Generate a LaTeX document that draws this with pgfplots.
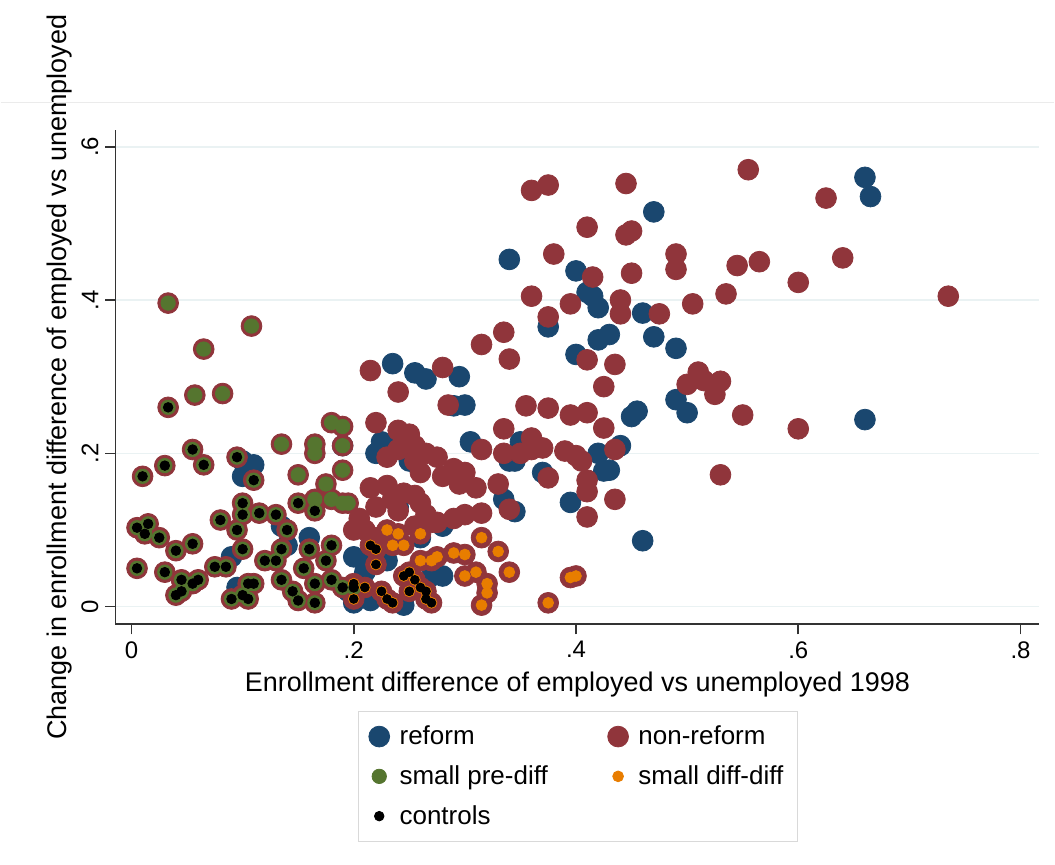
\documentclass[border=0pt]{standalone}
\usepackage{pgfplots}
\pgfplotsset{compat=1.18}
\usepackage{pgfplotstable}
\usepackage{fontspec}
\setmainfont{Liberation Sans}
\definecolor{sblue}{RGB}{26,71,111}
\definecolor{sred}{RGB}{144,53,59}
\definecolor{sgreen}{RGB}{85,117,47}
\definecolor{sorange}{RGB}{232,125,0}
\definecolor{sgrid}{RGB}{234,242,243}

\pgfplotstableread{
x y
0.66 0.56
0.665 0.535
0.47 0.515
0.34 0.453
0.40 0.438
0.41 0.41
0.415 0.405
0.42 0.39
0.46 0.383
0.375 0.365
0.43 0.355
0.42 0.348
0.47 0.352
0.49 0.337
0.40 0.329
0.235 0.317
0.255 0.305
0.265 0.297
0.295 0.30
0.51 0.298
0.49 0.27
0.50 0.253
0.455 0.255
0.45 0.248
0.66 0.244
0.30 0.263
0.29 0.262
0.305 0.215
0.35 0.215
0.225 0.215
0.22 0.20
0.24 0.22
0.19 0.21
0.44 0.21
0.42 0.20
0.37 0.175
0.43 0.178
0.425 0.177
0.34 0.19
0.345 0.19
0.335 0.14
0.345 0.124
0.395 0.136
0.46 0.086
0.10 0.19
0.11 0.185
0.10 0.17
0.135 0.105
0.16 0.09
0.09 0.065
0.20 0.065
0.21 0.06
0.21 0.045
0.195 0.02
0.215 0.008
0.20 0.005
0.245 0.002
0.27 0.04
0.26 0.09
0.28 0.04
0.095 0.025
0.14 0.08
0.24 0.13
0.28 0.105
0.25 0.19
0.23 0.06
}\reform

\pgfplotstableread{
x y
0.555 0.57
0.36 0.543
0.375 0.55
0.445 0.552
0.625 0.533
0.41 0.495
0.45 0.49
0.445 0.485
0.38 0.46
0.49 0.46
0.64 0.455
0.545 0.445
0.565 0.45
0.45 0.435
0.415 0.43
0.49 0.44
0.735 0.405
0.60 0.423
0.535 0.408
0.505 0.395
0.44 0.40
0.395 0.395
0.44 0.382
0.475 0.382
0.36 0.405
0.375 0.378
0.335 0.358
0.315 0.342
0.41 0.322
0.435 0.316
0.34 0.323
0.28 0.312
0.215 0.308
0.24 0.28
0.425 0.287
0.51 0.306
0.515 0.295
0.50 0.29
0.53 0.294
0.525 0.277
0.55 0.25
0.285 0.263
0.355 0.262
0.375 0.259
0.395 0.25
0.41 0.253
0.425 0.233
0.60 0.232
0.53 0.172
0.335 0.232
0.36 0.22
0.36 0.205
0.37 0.207
0.315 0.205
0.335 0.20
0.35 0.20
0.39 0.203
0.40 0.197
0.405 0.19
0.41 0.165
0.41 0.15
0.435 0.14
0.41 0.117
0.375 0.168
0.435 0.205
0.31 0.155
0.33 0.16
0.34 0.127
0.315 0.122
0.25 0.225
0.24 0.23
0.24 0.205
0.22 0.24
0.255 0.21
0.255 0.19
0.23 0.195
0.265 0.2
0.275 0.195
0.26 0.175
0.29 0.18
0.3 0.175
0.28 0.17
0.295 0.16
0.215 0.155
0.23 0.158
0.245 0.148
0.255 0.145
0.235 0.14
0.24 0.125
0.26 0.135
0.265 0.12
0.27 0.11
0.255 0.105
0.29 0.115
0.30 0.12
0.2 0.1
0.205 0.115
0.21 0.1
0.22 0.13
0.275 0.11
0.22 0.09
}\nonreform

\pgfplotstableread{
x y
0.033 0.396
0.108 0.366
0.065 0.336
0.057 0.276
0.082 0.278
0.135 0.212
0.165 0.212
0.165 0.2
0.19 0.235
0.18 0.24
0.19 0.21
0.15 0.172
0.175 0.16
0.19 0.178
0.18 0.14
0.19 0.135
0.195 0.135
0.165 0.14
}\predifonly

\pgfplotstableread{
x y
0.033 0.26
0.03 0.184
0.01 0.17
0.055 0.205
0.065 0.185
0.095 0.195
0.11 0.165
0.1 0.135
0.1 0.12
0.08 0.113
0.13 0.12
0.14 0.1
0.15 0.135
0.165 0.125
0.18 0.08
0.175 0.06
0.18 0.035
0.19 0.025
0.2 0.025
0.16 0.075
0.155 0.05
0.165 0.03
0.165 0.005
0.15 0.008
0.145 0.02
0.135 0.035
0.12 0.06
0.13 0.06
0.135 0.075
0.1 0.075
0.105 0.03
0.11 0.03
0.09 0.01
0.105 0.01
0.1 0.015
0.06 0.035
0.055 0.03
0.045 0.035
0.04 0.015
0.045 0.02
0.03 0.045
0.005 0.05
0.005 0.103
0.012 0.095
0.015 0.108
0.025 0.09
0.04 0.073
0.055 0.082
0.085 0.052
0.075 0.052
0.095 0.1
0.115 0.122
}\ctrlgreen

\pgfplotstableread{
x y
0.22 0.075
0.215 0.08
0.22 0.055
0.225 0.02
0.23 0.01
0.245 0.04
0.25 0.045
0.255 0.035
0.26 0.025
0.265 0.02
0.27 0.005
0.265 0.01
0.2 0.03
0.2 0.01
0.21 0.025
0.235 0.005
0.25 0.02
}\ctrlorange

\pgfplotstableread{
x y
0.23 0.1
0.24 0.095
0.235 0.08
0.26 0.095
0.245 0.08
0.26 0.06
0.275 0.065
0.29 0.07
0.27 0.06
0.30 0.068
0.315 0.09
0.33 0.072
0.34 0.045
0.30 0.04
0.31 0.045
0.32 0.03
0.32 0.018
0.315 0.002
0.375 0.005
0.395 0.038
0.4 0.04
}\diffonly

\begin{document}
\begin{tikzpicture}
\begin{axis}[
  at={(0,0)}, anchor=south west,
  scale only axis, width=462.5pt, height=247.5pt,
  xmin=-0.0144, xmax=0.817, ymin=-0.023, ymax=0.622,
  axis x line*=bottom, axis y line*=left,
  axis line style={black!80, line width=0.8pt, -},
  tick align=outside, major tick length=5pt,
  tick style={black!80, line width=0.8pt},
  xtick={0,0.2,0.4,0.6,0.8}, xticklabels={0,.2,.4,.6,.8},
  ytick={0,0.2,0.4,0.6}, yticklabels={0,.2,.4,.6},
  yticklabel style={rotate=90, anchor=south},
  ticklabel style={font=\fontsize{12}{14}\selectfont},
  ymajorgrids, grid style={sgrid, line width=0.8pt},
  xlabel={Enrollment difference of employed vs unemployed 1998},
  ylabel={Change in enrollment difference of employed vs unemployed},
  label style={font=\fontsize{13.5}{15}\selectfont},
  xlabel style={yshift=0pt},
  ylabel style={yshift=-2pt},
  clip=false,
  legend columns=2,
  legend style={at={(0.263,-0.176)}, anchor=north west, draw=black!15,
    font=\fontsize{13}{15}\selectfont, inner xsep=5pt, inner ysep=5pt,
    /tikz/every odd column/.append style={column sep=3pt},
    /tikz/every even column/.append style={column sep=28pt},
    row sep=5pt},
  legend cell align=left,
]
\addplot[only marks, mark=*, mark size=5.2pt, color=sblue, mark options={draw=sblue, fill=sblue}] table[x=x,y=y] {\reform};
\addlegendentry{reform}
\addplot[only marks, mark=*, mark size=5.2pt, color=sred, mark options={draw=sred, fill=sred}, forget plot] table[x=x,y=y] {\nonreform};
\addplot[only marks, mark=*, mark size=5.2pt, color=sred, mark options={draw=sred, fill=sred}, forget plot] table[x=x,y=y] {\predifonly};
\addplot[only marks, mark=*, mark size=5.2pt, color=sred, mark options={draw=sred, fill=sred}, forget plot] table[x=x,y=y] {\ctrlgreen};
\addplot[only marks, mark=*, mark size=5.2pt, color=sred, mark options={draw=sred, fill=sred}, forget plot] table[x=x,y=y] {\ctrlorange};
\addplot[only marks, mark=*, mark size=5.2pt, color=sred, mark options={draw=sred, fill=sred}] table[x=x,y=y] {\diffonly};
\addlegendentry{non-reform}
\addplot[only marks, mark=*, mark size=3.6pt, color=sgreen, mark options={draw=sgreen, fill=sgreen}, forget plot] table[x=x,y=y] {\predifonly};
\addplot[only marks, mark=*, mark size=3.6pt, color=sgreen, mark options={draw=sgreen, fill=sgreen}] table[x=x,y=y] {\ctrlgreen};
\addlegendentry{small pre-diff}
\addplot[only marks, mark=*, mark size=2.7pt, color=sorange, mark options={draw=sorange, fill=sorange}, forget plot] table[x=x,y=y] {\diffonly};
\addplot[only marks, mark=*, mark size=2.7pt, color=sorange, mark options={draw=sorange, fill=sorange}] table[x=x,y=y] {\ctrlorange};
\addlegendentry{small diff-diff}
\addplot[only marks, mark=*, mark size=2.2pt, color=black, mark options={draw=black, fill=black}, forget plot] table[x=x,y=y] {\ctrlorange};
\addplot[only marks, mark=*, mark size=2.4pt, color=black, mark options={draw=black, fill=black}] table[x=x,y=y] {\ctrlgreen};
\addlegendentry{controls}
\end{axis}
\draw[black!8, line width=0.6pt] (-57.5pt,261pt) -- (470pt,261pt);
\path[use as bounding box] (-57.5pt,-120pt) rectangle (470pt,312.5pt);
\end{tikzpicture}
\end{document}
